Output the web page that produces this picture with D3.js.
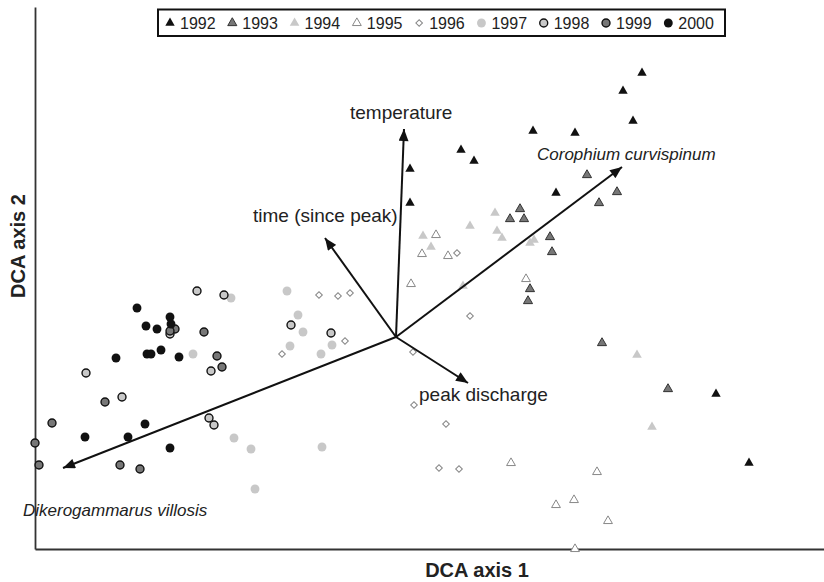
<!DOCTYPE html>
<html>
<head>
<meta charset="utf-8">
<script src="https://cdn.jsdelivr.net/npm/d3@7"></script>
<style>
  body { margin: 0; background: #fff; }
  svg { font-family: "Liberation Sans", Arial, sans-serif; }
</style>
</head>
<body>
<script>
// DCA sample scores, one list per year
const years = ["1992","1993","1994","1995","1996","1997","1998","1999","2000"];

const s1992 = [[6.07,4.76],[5.88,4.58],[5.98,4.28],[4.98,4.18],[5.40,4.16],[4.26,3.99],[4.39,3.88],[3.75,3.80],[3.75,3.46],[5.21,3.56],[6.81,1.55],[7.14,0.86]];
const s1993 = [[5.52,3.74],[5.82,3.57],[5.64,3.46],[4.85,3.40],[4.75,3.30],[4.89,3.30],[5.15,3.12],[5.17,2.97],[4.95,2.60],[4.93,2.48],[5.67,2.06],[6.33,1.60]];
const s1994 = [[4.60,3.36],[4.35,3.23],[3.88,3.13],[3.96,3.02],[4.62,3.18],[4.67,3.11],[4.95,3.06],[4.99,3.09],[4.28,2.63],[6.02,1.94],[6.17,1.22]];
const s1995 = [[4.01,3.14],[3.87,2.95],[4.13,2.93],[3.76,2.65],[4.91,2.70],[4.76,0.86],[5.62,0.77],[5.21,0.44],[5.39,0.49],[5.73,0.28],[5.40,0.00]];
const s1996 = [[4.22,2.96],[4.35,2.33],[3.78,1.97],[3.79,1.44],[4.11,1.25],[4.04,0.81],[4.24,0.80],[2.84,2.54],[3.03,2.53],[3.15,2.56],[2.47,1.95],[3.10,2.08]];
const s1997 = [[1.96,2.51],[2.52,2.58],[2.63,2.34],[2.68,2.17],[2.55,2.03],[2.86,1.95],[2.97,2.04],[1.58,1.95],[1.99,1.11],[2.16,1.00],[2.87,1.02],[2.20,0.60]];
const s1998 = [[1.62,2.58],[1.89,2.54],[2.56,2.24],[2.96,2.16],[1.76,1.78],[1.74,1.31],[1.79,1.24],[0.51,1.76],[0.87,1.52],[1.35,2.15]];
const s1999 = [[1.40,2.20],[1.35,2.18],[1.69,2.17],[1.82,1.93],[1.87,1.82],[0.70,1.47],[0.17,1.26],[0.00,1.06],[0.04,0.84],[0.85,0.84],[1.05,0.80]];
const s2000 = [[1.02,2.41],[1.35,2.32],[1.36,2.25],[1.11,2.23],[1.22,2.20],[0.81,1.91],[1.12,1.95],[1.16,1.95],[1.26,1.99],[1.44,1.92],[1.10,1.25],[0.50,1.12],[0.93,1.12],[1.35,1.01]];
const series = [s1992,s1993,s1994,s1995,s1996,s1997,s1998,s1999,s2000];

// biplot vectors
const origin = [3.61, 2.12];
const vectors = [
  {name: "temperature",             x: 3.69, y: 4.20, italic: false},
  {name: "time (since peak)",       x: 2.90, y: 3.11, italic: false},
  {name: "Corophium curvispinum",   x: 5.87, y: 3.82, italic: true},
  {name: "peak discharge",          x: 4.33, y: 1.66, italic: false},
  {name: "Dikerogammarus villosis", x: 0.28, y: 0.81, italic: true}
];

const w = 824, h = 582;
const padLeft = 35, padBottom = 549, padTop = 7;

const x = d3.scaleLinear().domain([0, 7.89]).range([padLeft, w]);
const y = d3.scaleLinear().domain([0, 5.42]).range([padBottom, padTop]);

// marker style per year
const styles = [
  {sym: d3.symbolTriangle, size: 38, fill: "#111", stroke: "none", sw: 0},
  {sym: d3.symbolTriangle, size: 36, fill: "#777", stroke: "#333", sw: 1},
  {sym: d3.symbolTriangle, size: 40, fill: "#c8c8c8", stroke: "none", sw: 0},
  {sym: d3.symbolTriangle, size: 34, fill: "#fff", stroke: "#888", sw: 1},
  {sym: d3.symbolSquare, size: 22, fill: "#fff", stroke: "#888", sw: 1, rot: 45},
  {sym: d3.symbolCircle, size: 62, fill: "#c8c8c8", stroke: "none", sw: 0},
  {sym: d3.symbolCircle, size: 50, fill: "#c8c8c8", stroke: "#111", sw: 1.4},
  {sym: d3.symbolCircle, size: 50, fill: "#777", stroke: "#111", sw: 1.4},
  {sym: d3.symbolCircle, size: 62, fill: "#111", stroke: "none", sw: 0}
];

const svg = d3.select("body").append("svg")
  .attr("width", w).attr("height", h);

svg.append("defs").append("marker")
  .attr("id", "head")
  .attr("markerUnits", "userSpaceOnUse")
  .attr("viewBox", "0 0 12 10")
  .attr("refX", 12).attr("refY", 5)
  .attr("markerWidth", 13).attr("markerHeight", 10)
  .attr("orient", "auto")
  .append("path").attr("d", "M0,0 L12,5 L0,10 Z").attr("fill", "#111");

// axes without ticks
svg.append("g")
  .attr("transform", "translate(0," + padBottom + ")")
  .call(d3.axisBottom(x).tickValues([]).tickSizeOuter(0))
  .select(".domain").attr("stroke", "#333").attr("stroke-width", 1.8);

svg.append("g")
  .attr("transform", "translate(" + padLeft + ",0)")
  .call(d3.axisLeft(y).tickValues([]).tickSizeOuter(0))
  .select(".domain").attr("stroke", "#333").attr("stroke-width", 1.8);

svg.append("text")
  .attr("x", 477).attr("y", 577)
  .attr("text-anchor", "middle")
  .attr("font-size", 20).attr("font-weight", "bold").attr("fill", "#222")
  .text("DCA axis 1");

svg.append("text")
  .attr("transform", "translate(25,246) rotate(-90)")
  .attr("text-anchor", "middle")
  .attr("font-size", 20).attr("font-weight", "bold").attr("fill", "#222")
  .text("DCA axis 2");

// points
series.forEach((pts, i) => {
  const st = styles[i];
  svg.append("g").selectAll("path")
    .data(pts)
    .enter()
    .append("path")
    .attr("d", d3.symbol().type(st.sym).size(st.size))
    .attr("transform", d => "translate(" + x(d[0]) + "," + y(d[1]) + ")" + (st.rot ? " rotate(" + st.rot + ")" : ""))
    .attr("fill", st.fill)
    .attr("stroke", st.stroke)
    .attr("stroke-width", st.sw);
});

// vectors
const labelOffset = {
  "temperature": [-54, -10],
  "time (since peak)": [-72, -16],
  "Corophium curvispinum": [-85, -7],
  "peak discharge": [-49, 18],
  "Dikerogammarus villosis": [-40, 48]
};

svg.append("g").selectAll("line")
  .data(vectors)
  .enter()
  .append("line")
  .attr("x1", x(origin[0])).attr("y1", y(origin[1]))
  .attr("x2", d => x(d.x)).attr("y2", d => y(d.y))
  .attr("stroke", "#111").attr("stroke-width", 2)
  .attr("marker-end", "url(#head)");

svg.append("g").selectAll("text")
  .data(vectors)
  .enter()
  .append("text")
  .attr("x", d => x(d.x) + labelOffset[d.name][0])
  .attr("y", d => y(d.y) + labelOffset[d.name][1])
  .attr("font-size", d => d.italic ? 17 : 19)
  .attr("font-style", d => d.italic ? "italic" : "normal")
  .attr("fill", "#222")
  .text(d => d.name);

// legend
const legend = svg.append("g");
legend.append("rect")
  .attr("x", 158).attr("y", 9.5).attr("width", 567).attr("height", 26.5)
  .attr("fill", "#fff").attr("stroke", "#111").attr("stroke-width", 2);

const lx = d3.scalePoint().domain(years).range([170, 668.3]);
years.forEach((yr, i) => {
  const st = styles[i];
  legend.append("path")
    .attr("d", d3.symbol().type(st.sym).size(st.size))
    .attr("transform", "translate(" + lx(yr) + ",23)" + (st.rot ? " rotate(" + st.rot + ")" : ""))
    .attr("fill", st.fill).attr("stroke", st.stroke).attr("stroke-width", st.sw);
  legend.append("text")
    .attr("x", lx(yr) + 10).attr("y", 28.5)
    .attr("font-size", 16).attr("fill", "#222")
    .text(yr);
});
</script>
</body>
</html>
